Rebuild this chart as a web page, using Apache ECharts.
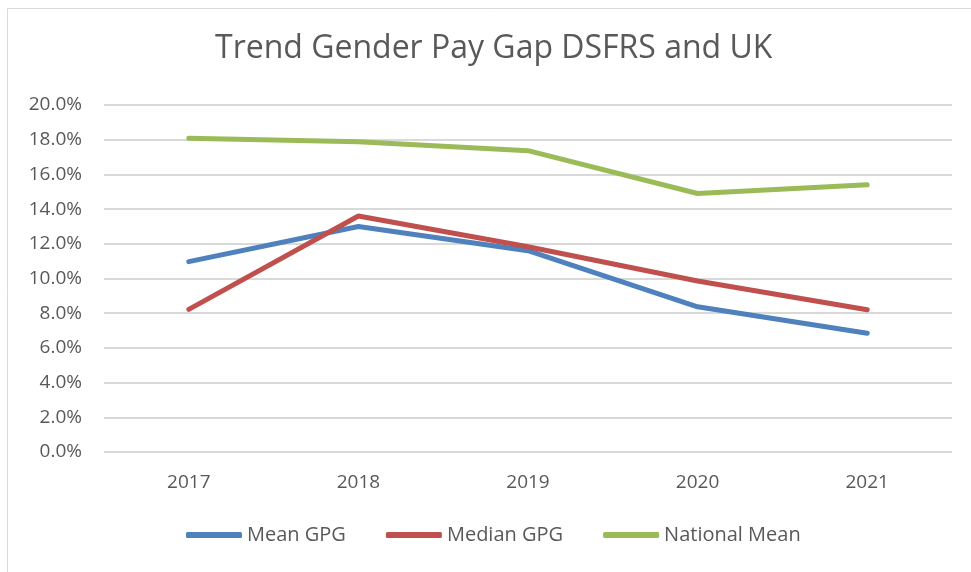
<!DOCTYPE html>
<html>
<head>
<meta charset="utf-8">
<script src="https://cdn.jsdelivr.net/npm/echarts@6/dist/echarts.min.js"></script>
<style>html,body{margin:0;padding:0;background:#fff}#c{width:971px;height:572px}</style>
</head>
<body>
<div id="c"></div>
<script>
const categories = ['2017', '2018', '2019', '2020', '2021'];
const meanGPG = [10.97, 13.0, 11.6, 8.37, 6.84];
const medianGPG = [8.22, 13.6, 11.83, 9.86, 8.2];
const nationalMean = [18.08, 17.88, 17.37, 14.9, 15.4];
const seriesNames = ['Mean GPG', 'Median GPG', 'National Mean'];
const colors = ['#4F81BD', '#C0504D', '#9BBB59'];

const font = '"Open Sans", "Noto Sans", sans-serif';
const chart = echarts.init(document.getElementById('c'));
const mk = (name, data, color) => ({
  name, type: 'line', data, symbol: 'none', color,
  lineStyle: { width: 5, color, cap: 'round', join: 'round' }
});
chart.setOption({
  animation: false,
  graphic: [{ type: 'rect', left: 5, top: 6, shape: { width: 990, height: 600 },
    style: { fill: 'none', stroke: '#d9d9d9', lineWidth: 1 } }],
  title: { text: 'Trend Gender Pay Gap DSFRS and UK', left: 210, top: 28,
    textStyle: { fontFamily: font, fontSize: 32, fontWeight: 'normal', color: '#595959' } },
  grid: { left: 104, right: 19, top: 105, bottom: 120, containLabel: false },
  legend: { bottom: 22, left: 181, icon: 'roundRect', itemWidth: 56, itemHeight: 6, itemGap: 40,
    textStyle: { fontFamily: font, fontSize: 20, color: '#595959' },
    data: seriesNames },
  xAxis: { type: 'category', data: categories, boundaryGap: true,
    axisLine: { show: false }, axisTick: { show: false },
    axisLabel: { fontFamily: font, fontSize: 19, color: '#595959', margin: 21 } },
  yAxis: { type: 'value', min: 0, max: 20, interval: 2,
    axisLine: { show: false }, axisTick: { show: false },
    splitLine: { lineStyle: { color: '#d9d9d9', width: 2 } },
    axisLabel: { fontFamily: font, fontSize: 19, color: '#595959', margin: 22,
      formatter: v => v.toFixed(1) + '%' } },
  series: [mk(seriesNames[0], meanGPG, colors[0]), mk(seriesNames[1], medianGPG, colors[1]), mk(seriesNames[2], nationalMean, colors[2])]
});
</script>
</body>
</html>
